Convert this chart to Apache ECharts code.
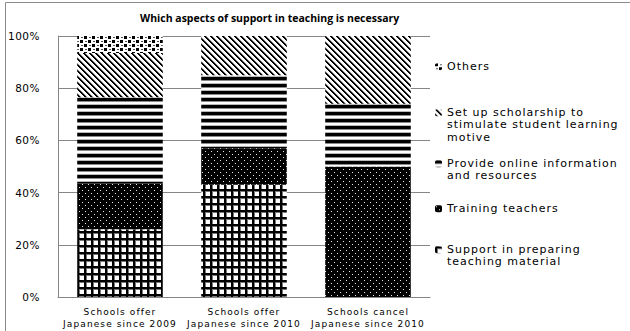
<!DOCTYPE html>
<html>
<head>
<meta charset="utf-8">
<script src="https://cdn.jsdelivr.net/npm/echarts@6/dist/echarts.min.js"></script>
<style>
  html, body { margin: 0; padding: 0; background: #fff; }
  #chart { width: 630px; height: 331px; overflow: hidden; }
</style>
</head>
<body>
<div id="chart"></div>
<script>
// School groups along the x axis
const categories = [
  'Schools offer\nJapanese since 2009',
  'Schools offer\nJapanese since 2010',
  'Schools cancel\nJapanese since 2010'
];

// Share of answers (%) per kind of support, bottom to top of each stack
const supportMaterial = [26, 43, 0];
const trainingTeachers = [17.5, 14, 50];
const onlineInfo = [33, 28, 24];
const scholarship = [17, 15, 26];
const others = [6.5, 0, 0];

const yTicks = [0, 20, 40, 60, 80, 100];

const seriesNames = [
  'Support in preparing\nteaching material',
  'Training teachers',
  'Provide online information\nand resources',
  'Set up scholarship to\nstimulate student learning\nmotive',
  'Others'
];

// ---- monochrome fill patterns ----
function tile(w, h, draw) {
  const c = document.createElement('canvas');
  c.width = w; c.height = h;
  const ctx = c.getContext('2d');
  draw(ctx, w, h);
  return { image: c, repeat: 'repeat' };
}

// grid of thick black lines
const patGrid = tile(7, 7, (ctx, w, h) => {
  ctx.fillStyle = '#fff'; ctx.fillRect(0, 0, w, h);
  ctx.fillStyle = '#000';
  ctx.fillRect(0, 0, 2, h);
  ctx.fillRect(0, 0, w, 2);
  ctx.fillStyle = '#777';
  ctx.fillRect(2, 2, 1, h - 2);
  ctx.fillRect(2, 2, w - 2, 1);
});

// black with small white dots, staggered
const patDots = tile(6, 6, (ctx, w, h) => {
  ctx.fillStyle = '#000'; ctx.fillRect(0, 0, w, h);
  ctx.fillStyle = '#e6e6e6';
  ctx.fillRect(1, 1, 1, 1);
  ctx.fillRect(4, 4, 1, 1);
});

// horizontal stripes
const patStripes = tile(4, 7, (ctx, w, h) => {
  ctx.fillStyle = '#fff'; ctx.fillRect(0, 0, w, h);
  ctx.fillStyle = '#000'; ctx.fillRect(0, 0, w, 3);
  ctx.fillStyle = '#8a8a8a'; ctx.fillRect(0, 3, w, 1);
  ctx.fillStyle = '#b8b8b8'; ctx.fillRect(0, 6, w, 1);
});

// diagonal lines running down to the right
const patDiag = tile(6, 6, (ctx, w, h) => {
  ctx.fillStyle = '#fff'; ctx.fillRect(0, 0, w, h);
  for (let y = 0; y < h; y++) {
    for (let x = 0; x < w; x++) {
      const d = ((x - y) % 6 + 6) % 6;
      if (d === 0 || d === 1) { ctx.fillStyle = '#000'; ctx.fillRect(x, y, 1, 1); }
      else if (d === 2) { ctx.fillStyle = '#999'; ctx.fillRect(x, y, 1, 1); }
    }
  }
});

// scattered black squares
const patConfetti = tile(8, 8, (ctx, w, h) => {
  ctx.fillStyle = '#fff'; ctx.fillRect(0, 0, w, h);
  ctx.fillStyle = '#000';
  ctx.fillRect(0, 0, 3, 3);
  ctx.fillRect(4, 4, 3, 3);
  ctx.fillStyle = '#555';
  ctx.fillRect(5, 1, 2, 1);
  ctx.fillRect(1, 5, 2, 1);
});

const fills = [patGrid, patDots, patStripes, patDiag, patConfetti];
const dataSets = [supportMaterial, trainingTeachers, onlineInfo, scholarship, others];

const series = seriesNames.map((name, i) => ({
  name: name,
  type: 'bar',
  stack: 'total',
  barCategoryGap: '31%',
  data: dataSets[i],
  itemStyle: { color: fills[i] },
  emphasis: { disabled: true }
}));

// Legend: one block per entry; the key sits beside the first line of text,
// further lines are written underneath it.
const LEGEND_LEFT = 435;
const LEGEND_TEXT_X = LEGEND_LEFT + 7 + 5;
const LH = 12.5;
const LEGEND_FONT = { fontFamily: 'DejaVu Sans', fontSize: 11, color: '#000' };
const firstLineY = [249, 208, 163, 112, 66];   // per series, same order as seriesNames

const legends = [];
const legendExtraLines = [];
[4, 3, 2, 1, 0].forEach(i => {
  const lines = seriesNames[i].split('\n');
  const yc = firstLineY[i];
  legends.push({
    data: [seriesNames[i]],
    left: LEGEND_LEFT,
    top: yc - 5.5,
    padding: 0,
    itemWidth: 7,
    itemHeight: 7,
    selectedMode: false,
    formatter: n => n.split('\n')[0],
    textStyle: Object.assign({ lineHeight: LH }, LEGEND_FONT)
  });
  lines.slice(1).forEach((line, k) => {
    legendExtraLines.push({
      type: 'text',
      x: LEGEND_TEXT_X,
      y: yc + (k + 1) * LH,
      silent: true,
      style: Object.assign({ text: line, verticalAlign: 'middle', align: 'left', fill: '#000',
        font: '11px "DejaVu Sans"' })
    });
  });
});

const chart = echarts.init(document.getElementById('chart'), null, { renderer: 'svg' });
chart.setOption({
  animation: false,
  backgroundColor: '#fff',
  title: {
    text: 'Which aspects of support in teaching is necessary',
    left: 140,
    top: 12,
    padding: 0,
    textStyle: {
      fontFamily: 'Open Sans',
      fontWeight: 'bold',
      fontSize: 10.5,
      color: '#000'
    }
  },
  graphic: [{
    type: 'rect',
    shape: { x: 5.5, y: 2.5, width: 700, height: 400 },
    style: { fill: null, stroke: '#8c8c8c', lineWidth: 1 },
    silent: true,
    z: -1
  }].concat(legendExtraLines),
  legend: legends,
  grid: { left: 58, right: 200, top: 36, bottom: 34, containLabel: false },
  xAxis: {
    type: 'category',
    data: categories,
    axisLine: { lineStyle: { color: '#868686' } },
    axisTick: { show: false },
    axisLabel: {
      margin: 9,
      fontFamily: 'DejaVu Sans',
      fontSize: 9,
      lineHeight: 12,
      color: '#000',
      interval: 0
    }
  },
  yAxis: {
    type: 'value',
    min: yTicks[0],
    max: yTicks[yTicks.length - 1],
    interval: yTicks[1] - yTicks[0],
    axisLine: { show: true, lineStyle: { color: '#868686' } },
    axisTick: { show: false },
    splitLine: { lineStyle: { color: '#868686' } },
    axisLabel: {
      margin: 18,
      fontFamily: 'DejaVu Sans',
      fontSize: 10.5,
      color: '#000',
      formatter: '{value}%'
    }
  },
  series: series
});

// Wide tracking on the regular-weight labels, by text size
function applyTracking() {
  document.querySelectorAll('#chart svg text').forEach(t => {
    const cs = getComputedStyle(t);
    const size = parseFloat(cs.fontSize);
    const bold = parseInt(cs.fontWeight, 10) >= 600;
    let sp = 0;
    if (!bold) {
      if (size >= 10.9) sp = 1.0;
      else if (size >= 10) sp = 0.5;
      else sp = 1.1;
    }
    t.style.letterSpacing = sp + 'px';
  });
}
applyTracking();
chart.on('finished', applyTracking);
</script>
</body>
</html>
